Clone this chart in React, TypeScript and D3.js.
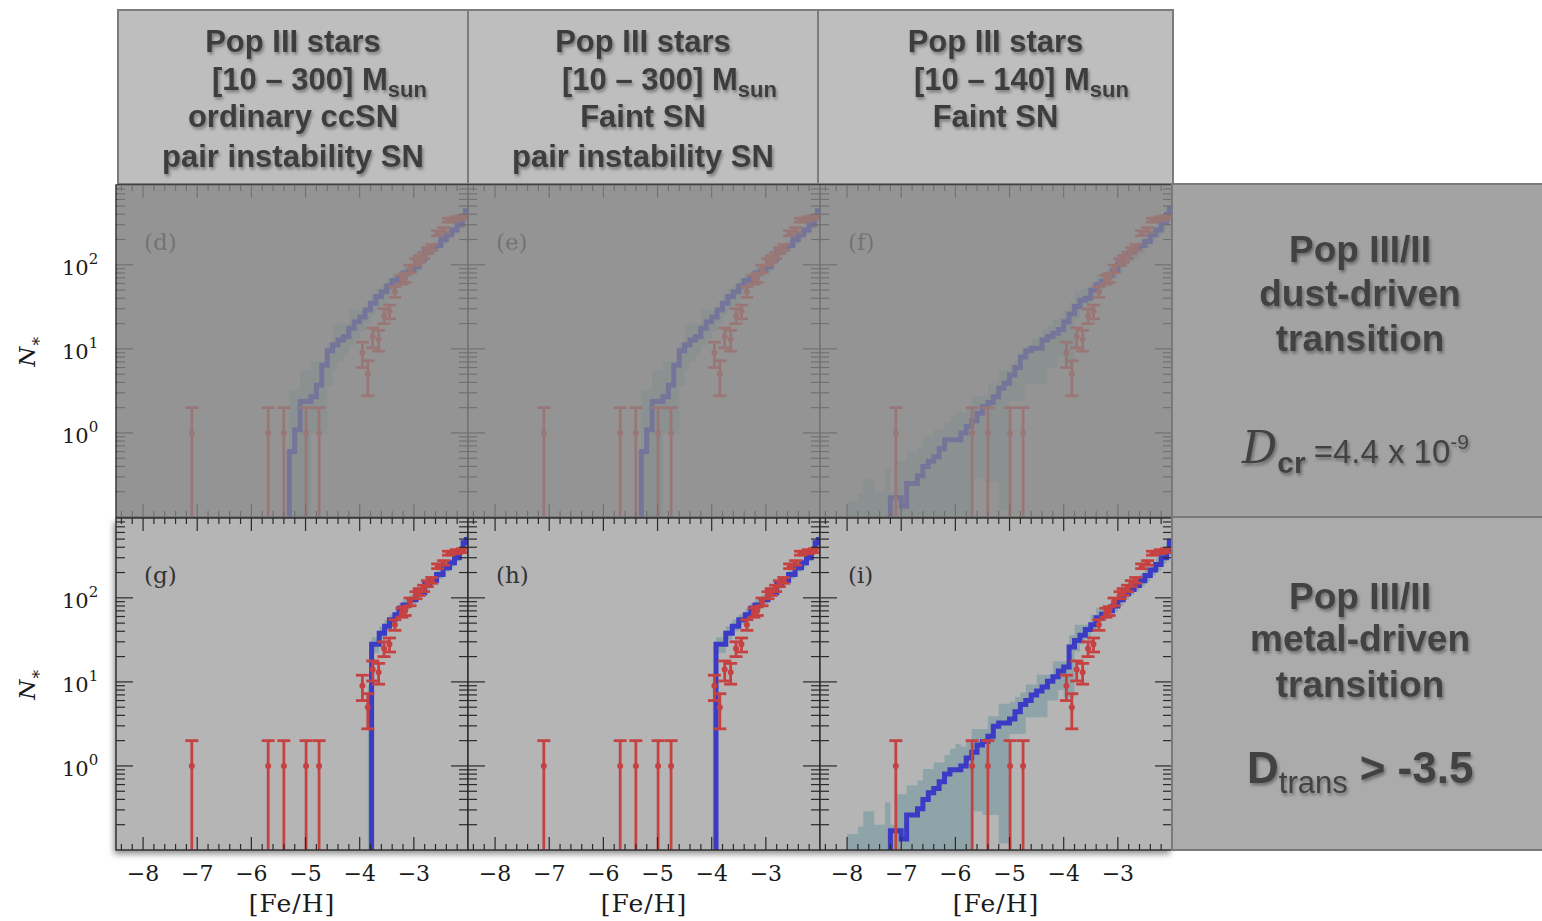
import React from "react";
import * as d3 from "d3";

// ---------- data ----------
// observed metal-poor stars (cumulative counts, Poisson errors)
const obsFeH = [-7.10, -5.69, -5.40, -4.99, -4.75, -3.95, -3.85, -3.76, -3.65, -3.55, -3.45, -3.35, -3.22, -3.16, -3.07, -2.96, -2.90, -2.82, -2.75, -2.67, -2.56, -2.45, -2.36, -2.22, -2.10];
const obsN = [1, 1, 1, 1, 1, 9, 5, 14, 13, 25, 28, 48, 67, 70, 90, 108, 118, 130, 148, 162, 238, 261, 340, 355, 365];

// panels (d),(e): dust-driven, [10-300] Msun
const lineDEx = [-5.3, -5.2, -5.1, -5.0, -4.9, -4.8, -4.7, -4.6, -4.5, -4.4, -4.3, -4.2, -4.1, -4.0, -3.9, -3.8, -3.7, -3.6, -3.5, -3.4, -3.3, -3.2, -3.1, -3.0, -2.9, -2.8, -2.7, -2.6, -2.5, -2.4, -2.3, -2.2, -2.1, -2.05];
const lineDEn = [0.6, 1.09, 2.36, 2.36, 2.7, 3.7, 6.4, 9.5, 11.2, 12.8, 14, 17.6, 21, 24, 29, 35, 42, 48, 56, 65, 72, 80, 85, 95, 115, 144, 155, 170, 199, 228, 260, 300, 360, 440];
const bandDEx = [-5.3, -5.2, -5.1, -5.0, -4.9, -4.8, -4.7, -4.6, -4.5, -4.4, -4.3, -4.2, -4.1, -4.0, -3.9, -3.8, -3.7, -3.6, -3.5, -3.4, -3.3, -3.2, -3.1, -3.0, -2.9, -2.8, -2.7, -2.6, -2.5, -2.4, -2.3, -2.2, -2.1];
const bandDElo = [0.05, 0.05, 0.05, 0.05, 1.0, 1.0, 1.0, 3.6, 5.6, 7.0, 8.5, 11, 13, 16, 20, 25, 30, 35, 44, 52, 58, 66, 72, 82, 100, 125, 135, 150, 175, 200, 230, 270, 330];
const bandDEhi = [3.2, 3.2, 5.6, 5.6, 7.1, 7.1, 7.1, 11.7, 20, 20, 20, 29, 29, 29, 36, 46, 52, 60, 68, 78, 85, 95, 102, 112, 135, 165, 180, 195, 225, 260, 295, 345, 420];

// panels (g),(h): metal-driven, [10-300] Msun
const lineGx = [-3.78, -3.64, -3.54, -3.45, -3.35, -3.27, -3.20, -3.08, -2.96, -2.80, -2.71, -2.58, -2.46, -2.34, -2.25, -2.16, -2.09, -2.03];
const lineGn = [28, 38, 46, 55, 63, 75, 82, 95, 115, 144, 161, 189, 228, 261, 300, 360, 452, 495];
const lineHx = [-3.92, -3.74, -3.62, -3.50, -3.38, -3.28, -3.20, -3.08, -2.96, -2.80, -2.71, -2.58, -2.46, -2.34, -2.25, -2.16, -2.09, -2.03];
const lineHn = [28, 38, 46, 55, 63, 75, 82, 95, 115, 144, 161, 189, 228, 261, 300, 360, 452, 495];
const bandGx = [-3.85, -3.78, -3.64, -3.54, -3.45, -3.35, -3.27, -3.20, -3.08, -2.96, -2.80, -2.71, -2.58, -2.46, -2.34, -2.25, -2.16, -2.09, -2.03];
const bandHx = [-3.98, -3.92, -3.74, -3.62, -3.50, -3.38, -3.28, -3.20, -3.08, -2.96, -2.80, -2.71, -2.58, -2.46, -2.34, -2.25, -2.16, -2.09, -2.03];
const bandGHlo = [0.05, 22, 32, 40, 48, 55, 66, 72, 84, 102, 128, 143, 168, 205, 235, 270, 325, 400, 440];
const bandGHhi = [9, 34, 46, 55, 64, 74, 86, 95, 108, 130, 162, 180, 212, 255, 290, 335, 400, 510, 560];

// panels (f),(i): [10-140] Msun
const lineFIx = [-7.2, -7.1, -7.0, -6.9, -6.8, -6.7, -6.6, -6.5, -6.4, -6.3, -6.2, -6.1, -6.0, -5.9, -5.8, -5.7, -5.6, -5.5, -5.4, -5.3, -5.2, -5.1, -5.0, -4.9, -4.8, -4.7, -4.6, -4.5, -4.4, -4.3, -4.2, -4.1, -4.0, -3.9, -3.8, -3.7, -3.6, -3.5, -3.4, -3.3, -3.2, -3.1, -3.0, -2.9, -2.8, -2.7, -2.6, -2.5, -2.4, -2.3, -2.2, -2.1, -2.05];
const lineFn = [0.17, 0.17, 0.135, 0.25, 0.25, 0.31, 0.40, 0.46, 0.52, 0.65, 0.83, 0.83, 0.83, 1.0, 1.19, 1.4, 1.71, 2.06, 2.3, 2.7, 3.4, 3.9, 4.9, 6.0, 8.0, 9.5, 10.2, 10.2, 12.8, 14, 15.4, 17, 21, 26, 32, 38, 40, 50, 58, 64, 75, 87, 105, 125, 140, 155, 170, 190, 228, 260, 320, 400, 470];
const lineIn = [0.17, 0.17, 0.135, 0.26, 0.26, 0.31, 0.40, 0.48, 0.54, 0.65, 0.80, 0.90, 0.90, 1.0, 1.24, 1.46, 1.78, 1.95, 2.26, 2.97, 3.25, 3.25, 3.63, 4.4, 5.4, 6.0, 7.0, 7.8, 8.7, 10.2, 11.5, 13.5, 15, 26, 31, 36, 42, 48, 58, 64, 70, 80, 95, 112, 126, 140, 160, 185, 215, 250, 300, 370, 470];
const bandFIx = [-8.0, -7.9, -7.8, -7.7, -7.6, -7.5, -7.4, -7.3, -7.2, -7.1, -7.0, -6.9, -6.8, -6.7, -6.6, -6.5, -6.4, -6.3, -6.2, -6.1, -6.0, -5.9, -5.8, -5.7, -5.6, -5.5, -5.4, -5.3, -5.2, -5.1, -5.0, -4.9, -4.8, -4.7, -4.6, -4.5, -4.4, -4.3, -4.2, -4.1, -4.0, -3.9, -3.8, -3.7, -3.6, -3.5, -3.4, -3.3, -3.2, -3.1, -3.0, -2.9, -2.8, -2.7, -2.6, -2.5, -2.4, -2.3, -2.2, -2.1];
const bandFIlo = [0.05, 0.05, 0.05, 0.05, 0.05, 0.05, 0.05, 0.05, 0.05, 0.05, 0.05, 0.05, 0.05, 0.05, 0.05, 0.05, 0.05, 0.05, 0.05, 0.05, 0.05, 0.05, 0.05, 0.29, 0.29, 0.26, 0.26, 0.26, 0.12, 0.12, 2.4, 2.4, 2.4, 3.8, 3.8, 3.8, 3.8, 6, 6, 8, 6.5, 6.5, 23, 28, 34, 40, 48, 54, 60, 68, 80, 95, 108, 120, 136, 158, 183, 212, 255, 315];
const bandIhi = [0.155, 0.155, 0.19, 0.29, 0.29, 0.2, 0.2, 0.37, 0.2, 0.46, 0.46, 0.59, 0.59, 0.67, 0.92, 0.92, 1.1, 1.1, 1.35, 1.6, 1.83, 1.7, 2.0, 2.76, 2.76, 2.76, 3.9, 3.9, 5.5, 5.5, 5.8, 6.6, 7.5, 9.3, 9.3, 12.2, 12.2, 12.2, 17.6, 17.6, 17.6, 36, 48, 48, 48, 63, 76, 76, 76, 88, 110, 130, 150, 168, 190, 220, 255, 300, 360, 450];
const bandFhi = [0.155, 0.155, 0.19, 0.29, 0.29, 0.2, 0.2, 0.37, 0.2, 0.46, 0.46, 0.59, 0.59, 0.67, 0.92, 0.92, 1.1, 1.1, 1.35, 1.6, 1.83, 1.7, 2.0, 2.76, 2.76, 2.76, 3.9, 3.9, 5.5, 5.5, 6.6, 7.5, 9.5, 11, 13, 14, 17, 19, 22, 24, 28, 36, 48, 52, 55, 63, 76, 80, 90, 100, 120, 140, 160, 175, 195, 225, 260, 300, 360, 450];

// axis ticks
const xTickValues = [-8, -7, -6, -5, -4, -3];
const yTickValues = [1, 10, 100];
const yTickExp = ["0", "1", "2"];

// panel texts
const panelLabels = ["(d)", "(e)", "(f)", "(g)", "(h)", "(i)"];
const headerLines = [
  ["Pop III stars", "[10 – 300] M", "ordinary ccSN", "pair instability SN"],
  ["Pop III stars", "[10 – 300] M", "Faint SN", "pair instability SN"],
  ["Pop III stars", "[10 – 140] M", "Faint SN"],
];

// ---------- layout ----------
const W = 1542, H = 921;
const PANEL_LEFT = [116, 468, 820];
const PANEL_W = 352;
const ROW_TOP = [185, 518];
const PANEL_H = 332;
const X_DOMAIN: [number, number] = [-8.5, -2];
const Y_DOMAIN: [number, number] = [0.1, 891];

const BLUE = "#3b3bc6";
const RED = "#c64242";
const BAND = "#8ea4a9";
const SERIF = "'DejaVu Serif', serif";
const SANS = "'Liberation Sans', Arial, sans-serif";

type PanelCfg = {
  col: number; row: number; label: string;
  lx: number[]; ln: number[];
  bx: number[]; blo: number[]; bhi: number[];
};

const panels: PanelCfg[] = [
  { col: 0, row: 0, label: panelLabels[0], lx: lineDEx, ln: lineDEn, bx: bandDEx, blo: bandDElo, bhi: bandDEhi },
  { col: 1, row: 0, label: panelLabels[1], lx: lineDEx, ln: lineDEn, bx: bandDEx, blo: bandDElo, bhi: bandDEhi },
  { col: 2, row: 0, label: panelLabels[2], lx: lineFIx, ln: lineFn, bx: bandFIx, blo: bandFIlo, bhi: bandFhi },
  { col: 0, row: 1, label: panelLabels[3], lx: lineGx, ln: lineGn, bx: bandGx, blo: bandGHlo, bhi: bandGHhi },
  { col: 1, row: 1, label: panelLabels[4], lx: lineHx, ln: lineHn, bx: bandHx, blo: bandGHlo, bhi: bandGHhi },
  { col: 2, row: 1, label: panelLabels[5], lx: lineFIx, ln: lineIn, bx: bandFIx, blo: bandFIlo, bhi: bandIhi },
];

function Panel({ cfg, idx }: { cfg: PanelCfg; idx: number }) {
  const L = PANEL_LEFT[cfg.col], T = ROW_TOP[cfg.row];
  const x = d3.scaleLinear().domain(X_DOMAIN).range([L, L + PANEL_W]);
  const y = d3.scaleLog().domain(Y_DOMAIN).range([T + PANEL_H, T]).clamp(true);
  const bottom = T + PANEL_H;

  const bandData = cfg.bx.map((v, i) => ({ x: v, lo: cfg.blo[i], hi: cfg.bhi[i] }));
  bandData.push({ x: X_DOMAIN[1], lo: cfg.blo[cfg.blo.length - 1], hi: cfg.bhi[cfg.bhi.length - 1] });
  const area = d3.area<{ x: number; lo: number; hi: number }>()
    .x(d => x(d.x)).y0(d => y(d.lo)).y1(d => y(d.hi)).curve(d3.curveStepAfter);

  const lineData = [{ x: cfg.lx[0], n: 0.01 }, ...cfg.lx.map((v, i) => ({ x: v, n: cfg.ln[i] }))];
  lineData.push({ x: X_DOMAIN[1], n: cfg.ln[cfg.ln.length - 1] });
  const line = d3.line<{ x: number; n: number }>()
    .x(d => x(d.x)).y(d => y(d.n)).curve(d3.curveStepAfter);

  const xMinor = d3.range(-8.4, -2.05, 0.2).filter(v => Math.abs(v - Math.round(v)) > 0.05);
  const yMinor: number[] = [];
  [0.1, 1, 10, 100].forEach(dec => { for (let k = 2; k <= 9; k++) { const v = k * dec; if (v < Y_DOMAIN[1]) yMinor.push(v); } });

  const clipId = `clip${idx}`;
  const R = L + PANEL_W;
  const tickStroke = "#2a2a2a";

  return (
    <g>
      <defs>
        <clipPath id={clipId}><rect x={L} y={T} width={PANEL_W} height={PANEL_H} /></clipPath>
      </defs>
      <rect x={L} y={T} width={PANEL_W} height={PANEL_H} fill="#b5b5b5" />
      <g clipPath={`url(#${clipId})`}>
        <path d={area(bandData) || ""} fill={BAND} stroke="none" />
        <path d={line(lineData) || ""} fill="none" stroke={BLUE} strokeWidth={5} strokeLinejoin="miter" />
        {obsFeH.map((f, i) => {
          const n = obsN[i];
          const e = Math.sqrt(n);
          const cx = x(f);
          const yTop = y(n + e);
          const lo = n - e;
          const yBot = lo > Y_DOMAIN[0] ? y(lo) : bottom + 5;
          return (
            <g key={i} stroke={RED} strokeWidth={2.8}>
              <line x1={cx} x2={cx} y1={yTop} y2={yBot} />
              <line x1={cx - 6.5} x2={cx + 6.5} y1={yTop} y2={yTop} />
              {lo > Y_DOMAIN[0] && <line x1={cx - 6.5} x2={cx + 6.5} y1={yBot} y2={yBot} />}
              <circle cx={cx} cy={y(n)} r={3} fill={RED} stroke="none" />
            </g>
          );
        })}
      </g>
      {/* ticks */}
      <g stroke={tickStroke} strokeWidth={1.2}>
        {xTickValues.map(v => (
          <g key={"xm" + v}>
            <line x1={x(v)} x2={x(v)} y1={bottom} y2={bottom - 13} />
            <line x1={x(v)} x2={x(v)} y1={T} y2={T + 13} />
          </g>
        ))}
        {xMinor.map(v => (
          <g key={"xn" + v}>
            <line x1={x(v)} x2={x(v)} y1={bottom} y2={bottom - 6} />
            <line x1={x(v)} x2={x(v)} y1={T} y2={T + 6} />
          </g>
        ))}
        {yTickValues.map(v => (
          <g key={"ym" + v}>
            <line x1={L} x2={L + 17} y1={y(v)} y2={y(v)} />
            <line x1={R} x2={R - 17} y1={y(v)} y2={y(v)} />
          </g>
        ))}
        {yMinor.map(v => (
          <g key={"yn" + v}>
            <line x1={L} x2={L + 9} y1={y(v)} y2={y(v)} />
            <line x1={R} x2={R - 9} y1={y(v)} y2={y(v)} />
          </g>
        ))}
      </g>
      <rect x={L} y={T} width={PANEL_W} height={PANEL_H} fill="none" stroke="#2a2a2a" strokeWidth={1.4} />
      <text x={L + 28} y={T + 65} fontFamily={SERIF} fontSize={23} fill="#333">{cfg.label}</text>
      {/* tick labels */}
      {cfg.col === 0 && yTickValues.map((v, i) => (
        <text key={"yl" + v} x={L - 54} y={y(v) + 10} fontFamily={SERIF} fontSize={21} fill="#1a1a1a">
          10<tspan dy={-11} fontSize={15}>{yTickExp[i]}</tspan>
        </text>
      ))}
      {cfg.col === 0 && (
        <text transform={`translate(35,${T + PANEL_H / 2}) rotate(-90)`} textAnchor="middle" fontFamily={SERIF} fontSize={23} fill="#1a1a1a">
          <tspan fontStyle="italic">N</tspan><tspan dy={6} fontSize={17}>∗</tspan>
        </text>
      )}
      {cfg.row === 1 && xTickValues.map(v => (
        <text key={"xl" + v} x={x(v)} y={bottom + 31} textAnchor="middle" fontFamily={SERIF} fontSize={22} fill="#1a1a1a">
          {"\u2212" + Math.abs(v)}
        </text>
      ))}
      {cfg.row === 1 && (
        <text x={L + PANEL_W / 2} y={bottom + 62} textAnchor="middle" fontFamily={SERIF} fontSize={25} letterSpacing={1} fill="#1a1a1a">[Fe/H]</text>
      )}
    </g>
  );
}

function Header({ i }: { i: number }) {
  const boxes = [[118, 350], [468, 350], [818, 355]];
  const [bx, bw] = boxes[i];
  const cx = bx + bw / 2;
  const line2Start = [212, 562, 914][i];
  const lines = headerLines[i];
  const baselines = [52, 90, 127, 167];
  return (
    <g>
      <rect x={bx} y={10} width={bw} height={174} fill="#bebebe" stroke="#7c7c7c" strokeWidth={2} />
      <g fontFamily={SANS} fontWeight="bold" fontSize={31} fill="#3e3e3e" filter="url(#tshadow)">
        <text x={cx} y={baselines[0]} textAnchor="middle">{lines[0]}</text>
        <text x={line2Start} y={baselines[1]}>{lines[1]}<tspan dy={7} fontSize={22}>sun</tspan></text>
        {lines.slice(2).map((t, k) => (
          <text key={k} x={cx} y={baselines[k + 2]} textAnchor="middle">{t}</text>
        ))}
      </g>
    </g>
  );
}

export default function App() {
  return (
    <svg width={W} height={H} viewBox={`0 0 ${W} ${H}`} style={{ position: "absolute", left: 0, top: 0, background: "#fff" }}>
      <defs>
        <filter id="tshadow" x="-10%" y="-30%" width="130%" height="170%">
          <feDropShadow dx={1.5} dy={2.5} stdDeviation={1.6} floodColor="#000" floodOpacity={0.35} />
        </filter>
        <filter id="pshadow" x="-5%" y="-5%" width="110%" height="115%">
          <feDropShadow dx={-2} dy={4} stdDeviation={3} floodColor="#000" floodOpacity={0.45} />
        </filter>
      </defs>
      <rect x={0} y={0} width={W} height={H} fill="#fff" />
      {[0, 1, 2].map(i => <Header key={i} i={i} />)}
      {/* drop shadow behind bottom row */}
      <rect x={116} y={518} width={1056} height={332} fill="#b5b5b5" filter="url(#pshadow)" />
      {panels.map((p, i) => <Panel key={i} cfg={p} idx={i} />)}
      {/* dimming veil over top row */}
      <rect x={117} y={185} width={1055} height={332} fill="#8a8a8a" opacity={0.75} />
      {/* right boxes */}
      <rect x={1172} y={184} width={372} height={333} fill="#a3a3a3" stroke="#7a7a7a" strokeWidth={2} />
      <rect x={1172} y={517} width={372} height={333} fill="#ababab" stroke="#7a7a7a" strokeWidth={2} />
      <g fill="#434343" filter="url(#tshadow)" fontFamily={SANS}>
        <g fontWeight="bold" fontSize={37} textAnchor="middle">
          <text x={1360} y={262}>Pop III/II</text>
          <text x={1360} y={306}>dust-driven</text>
          <text x={1360} y={351}>transition</text>
          <text x={1360} y={609}>Pop III/II</text>
          <text x={1360} y={651}>metal-driven</text>
          <text x={1360} y={697}>transition</text>
        </g>
        <text x={1242} y={463} fontSize={33}>
          <tspan fontFamily="'DejaVu Serif', serif" fontStyle="italic" fontSize={44}>D</tspan>
          <tspan dy={10} fontSize={30} fontWeight="bold">cr</tspan>
          <tspan dy={-10} dx={8}>=4.4 x 10</tspan>
          <tspan dy={-14} fontSize={21}>-9</tspan>
        </text>
        <text x={1247} y={783} fontSize={44} fontWeight="bold">
          D<tspan dy={10} fontSize={31} fontWeight="normal">trans</tspan>
          <tspan dy={-10} dx={12}>{"> -3.5"}</tspan>
        </text>
      </g>
    </svg>
  );
}
